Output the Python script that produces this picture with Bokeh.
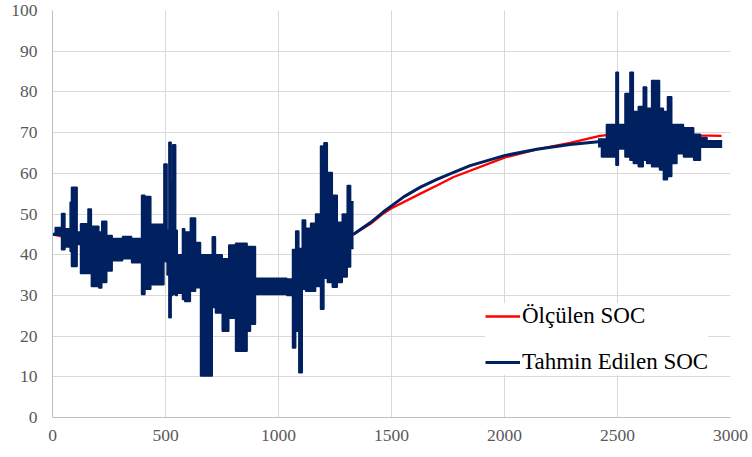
from bokeh.plotting import figure
from bokeh.models import Range1d, Legend, LegendItem, FixedTicker
from bokeh.embed import file_html
from bokeh.resources import INLINE

# ---------------- data ----------------
# Measured SOC (red)
meas_x = [0, 200, 400, 550, 750, 900, 1037, 1100, 1192, 1260, 1332, 1407, 1466, 1500,
          1628, 1701, 1775, 2003, 2143, 2290, 2422, 2500, 2700, 2849, 2960]
meas_y = [45, 42.5, 40.5, 37.5, 33, 32, 32, 33.5, 38.5, 42, 45, 47.6, 50.2, 51.4,
          55.0, 57.0, 59.1, 63.9, 65.9, 67.5, 69.2, 69.7, 69.6, 69.3, 69.2]

# Estimated SOC, smooth part
est_smooth_x = [1332, 1407, 1466, 1500, 1554, 1628, 1701, 1775, 1848, 2003, 2143, 2290, 2437]
est_smooth_y = [45, 47.9, 50.6, 52.0, 54.2, 56.6, 58.5, 60.2, 61.9, 64.4, 65.9, 67.1, 67.9]

# Estimated SOC, first noisy part: segment bounds, upper and lower extremes
noisy1_x = [0, 12, 40, 55, 78, 84, 109, 124, 157, 172, 205, 218, 240, 264, 310, 350,
            394, 409, 435, 493, 507, 515, 525, 532, 545, 552, 575, 585, 610, 633, 655,
            707, 721, 751, 780, 810, 861, 876, 898, 1037, 1062, 1076, 1090, 1105, 1120,
            1142, 1164, 1186, 1201, 1216, 1238, 1260, 1282, 1304, 1319, 1332]
noisy1_hi = [45.2, 46.7, 50.1, 46.4, 52.9, 56.6, 45.6, 47.6, 51.2, 47,
             45.6, 48.2, 44.7, 44, 44.5, 44, 54.6, 54.3, 47.5, 62.3,
             46, 67.6, 58, 67, 46, 40, 46.4, 45.6, 49, 43, 40, 44.4,
             40, 39, 42.4, 42.8, 42, 42, 34.2, 34, 41.3, 45.8,
             41.5, 48.5, 46.5, 47.7, 50, 66.7, 67.5, 60.2, 54.6, 48,
             50, 57, 53]
noisy1_lo = [44.8, 44.8, 41.2, 41.9, 40.8, 37.1, 42.5, 35.4, 35.4, 32.2,
             31.8, 33.2, 36, 38.5, 39, 38, 30.2, 31.5, 32.6, 38.3,
             35, 24.5, 30, 30.2, 30, 30.5, 29, 28.5, 31, 31.9, 10.2, 27,
             25.7, 21.2, 24.4, 16.3, 21.2, 22.9, 30.2, 30, 17.1, 21.2,
             11, 31.5, 31, 31, 32.2, 26.6, 34.2, 33.2, 32, 33.2,
             34.5, 37, 41.5]

# Estimated SOC, second noisy part
noisy2_x = [2414, 2429, 2451, 2493, 2504, 2533, 2555, 2570, 2592, 2614, 2629, 2651, 2686,
            2703, 2721, 2740, 2763, 2792, 2837, 2867, 2896, 2963]
noisy2_hi = [68.4, 68.4, 72, 84.8, 72, 79.6, 84.8, 75.2, 76.4, 81.2, 76, 82.8, 76, 75.2,
             78.8, 72, 72, 71.2, 69.6, 68.8, 68]
noisy2_lo = [66.5, 64, 64, 62, 66, 64, 63.2, 62.4, 61.6, 63.2, 62.4, 61.6, 60.8, 58.4,
             59.2, 62.4, 64.8, 64, 63.2, 66.4, 66.4]

x_ticks = [0, 500, 1000, 1500, 2000, 2500, 3000]
y_ticks = [0, 10, 20, 30, 40, 50, 60, 70, 80, 90, 100]

RED = "#FF0000"
NAVY = "#002060"
FONT = "Liberation Serif"


def steps(bounds, hi, lo):
    xs, his, los = [], [], []
    for i in range(len(hi)):
        xs += [bounds[i], bounds[i + 1]]
        his += [hi[i], hi[i]]
        los += [lo[i], lo[i]]
    return xs, his, los


p = figure(width=752, height=457, output_backend="svg", toolbar_location=None,
           x_range=Range1d(0, 3000), y_range=Range1d(0, 100),
           min_border_left=52, min_border_right=22, min_border_top=10,
           min_border_bottom=40)
p.background_fill_color = "white"
p.border_fill_color = "white"
p.outline_line_color = None

p.xaxis.ticker = FixedTicker(ticks=x_ticks)
p.yaxis.ticker = FixedTicker(ticks=y_ticks)
for ax in (p.xaxis[0], p.yaxis[0]):
    ax.axis_line_color = "#bfbfbf"
    ax.axis_line_width = 1
    ax.major_tick_line_color = None
    ax.minor_tick_line_color = None
    ax.major_tick_out = 0
    ax.major_tick_in = 0
    ax.major_label_text_font = FONT
    ax.major_label_text_font_size = "17.5px"
    ax.major_label_text_color = "#595959"
p.xaxis.major_label_standoff = 12
p.yaxis.major_label_standoff = 15
p.xgrid.grid_line_color = "#d9d9d9"
p.ygrid.grid_line_color = "#d9d9d9"

r_meas = p.line(meas_x, meas_y, line_color=RED, line_width=2.3)

for bx, bh, bl in ((noisy1_x, noisy1_hi, noisy1_lo), (noisy2_x, noisy2_hi, noisy2_lo)):
    xs, his, los = steps(bx, bh, bl)
    p.varea(x=xs, y1=los, y2=his, fill_color=NAVY, fill_alpha=1)
    p.line(xs, his, line_color=NAVY, line_width=1.5)
    p.line(xs, los, line_color=NAVY, line_width=1.5)

r_est = p.line(est_smooth_x, est_smooth_y, line_color=NAVY, line_width=3)

legend = Legend(items=[LegendItem(label="Ölçülen SOC", renderers=[r_meas]),
                       LegendItem(label="Tahmin Edilen SOC", renderers=[r_est])],
                location=(433, 42), orientation="vertical",
                label_text_font=FONT, label_text_font_size="23px",
                label_text_color="black", glyph_width=35, glyph_height=20,
                label_standoff=2, spacing=20, padding=10,
                background_fill_color="white", background_fill_alpha=1,
                border_line_color=None)
p.add_layout(legend)

open("out.html", "w").write(file_html(p, INLINE))
